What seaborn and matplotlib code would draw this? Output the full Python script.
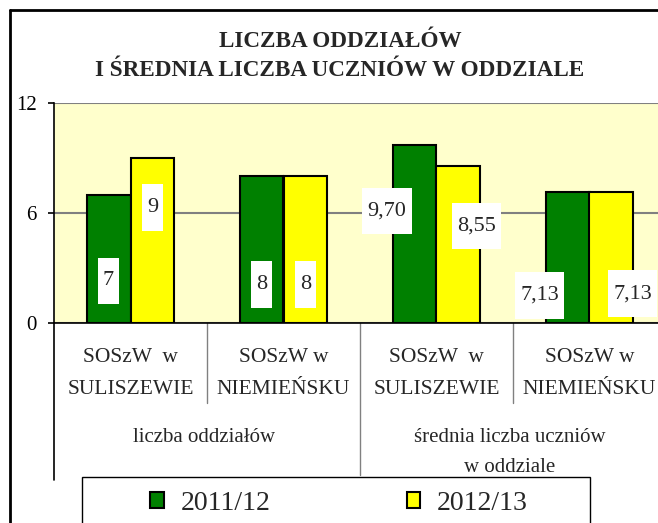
import pandas as pd
import matplotlib
matplotlib.use("Agg")
import matplotlib.pyplot as plt
import seaborn as sns
from matplotlib.path import Path
from matplotlib.lines import Line2D
from matplotlib.patches import Rectangle

# data
groups = ["liczba oddziałów", "średnia liczba uczniów\nw oddziale"]
schools = ["SOSzW  w\nSULISZEWIE", "SOSzW w\nNIEMIEŃSKU",
           "SOSzW  w\nSULISZEWIE", "SOSzW w\nNIEMIEŃSKU"]
years = ["2011/12", "2012/13"]
v_2011 = [7, 8, 9.70, 7.13]
v_2012 = [9, 8, 8.55, 7.13]
lab_2011 = ["7", "8", "9,70", "7,13"]
lab_2012 = ["9", "8", "8,55", "7,13"]

# where Excel put the value boxes (y centre, x shift in category units)
lab_y = [[2.3, 2.1, 6.1, 1.5], [6.3, 2.1, 5.3, 1.6]]
lab_dx = [[0, 0, -0.18, -0.18], [0, 0, 0.12, 0.14]]

keys = [str(i) for i in range(len(schools))]
df = pd.DataFrame({
    "k": keys * 2,
    "v": v_2011 + v_2012,
    "year": [years[0]] * 4 + [years[1]] * 4,
})

sns.set_style("white")
plt.rcParams["font.family"] = ["Liberation Serif", "DejaVu Serif"]

W, H = 658, 523
fig = plt.figure(figsize=(W / 100, H / 100), dpi=100)
ax = fig.add_axes([54 / W, 200 / H, 612 / W, 220 / H])

sns.barplot(data=df, x="k", y="v", hue="year", order=keys, ax=ax,
            palette=["#008000", "#FFFF00"], saturation=1, width=0.575,
            edgecolor="black", linewidth=1.5, errorbar=None)

ax.set_facecolor("#FFFFCC")
ax.set_xlim(-0.5, len(schools) - 0.5)
ax.set_ylim(0, 12)
ax.set_yticks([0, 6, 12])
ax.yaxis.grid(True, color="#808080", lw=1.5)
ax.set_axisbelow(True)
ax.set_xlabel("")
ax.set_ylabel("")
for s in ["top", "right"]:
    ax.spines[s].set_visible(False)
for s in ["left", "bottom"]:
    ax.spines[s].set_color("black")
    ax.spines[s].set_linewidth(1.2)
ax.tick_params(axis="y", labelsize=15, length=4.5, width=1.2, pad=8,
               left=True, colors="black")
ax.set_xticks(range(len(schools)))
ax.set_xticklabels(schools, fontsize=15.5, linespacing=1.9)
ax.tick_params(axis="x", length=0, pad=18)


def value_box(x0, y0, width, height, mutation_size):
    px, py = 0.23 * mutation_size, 0.62 * mutation_size
    x0, y0, x1, y1 = x0 - px, y0 - py, x0 + width + px, y0 + height + py
    return Path([(x0, y0), (x1, y0), (x1, y1), (x0, y1), (x0, y0)],
                [Path.MOVETO, Path.LINETO, Path.LINETO, Path.LINETO,
                 Path.CLOSEPOLY])


for j, (cont, labs) in enumerate(zip(ax.containers, [lab_2011, lab_2012])):
    for i, (bar, t) in enumerate(zip(cont, labs)):
        xc = bar.get_x() + bar.get_width() / 2 + lab_dx[j][i]
        ax.text(xc, lab_y[j][i], t, ha="center", va="center", fontsize=16,
                bbox=dict(boxstyle=value_box, fc="white", ec="none"))

# category / group separators below the axis
tr = ax.get_xaxis_transform()
ax.plot([-0.5, -0.5], [0, -0.714], transform=tr, color="black", lw=1.2,
        clip_on=False)
for b, depth in [(0.5, -0.364), (1.5, -0.69), (2.5, -0.364)]:
    ax.plot([b, b], [0, depth], transform=tr, color="#808080", lw=1,
            clip_on=False)
for g, name in enumerate(groups):
    ax.text(2 * g + 0.48, -0.475, name, transform=tr, ha="center", va="top",
            fontsize=15, linespacing=1.85)

# legend
h, l = ax.get_legend_handles_labels()
ax.get_legend().remove()
fig.legend(h, l, loc="center left", bbox_to_anchor=(150 / W, 1 - 503 / H),
           ncol=2, frameon=False, fontsize=20, borderpad=0, borderaxespad=0,
           handlelength=0.5, handleheight=0.5, handletextpad=0.6,
           columnspacing=4.9)
fig.patches.append(Rectangle((82 / W, -0.1), 508 / W, 1 - 477 / H + 0.1,
                             transform=fig.transFigure, fill=False,
                             ec="black", lw=1))

fig.text(340 / W, 1 - 56 / H, "LICZBA ODDZIAŁÓW\nI ŚREDNIA LICZBA UCZNIÓW W ODDZIALE",
         ha="center", va="center", fontsize=16.7, fontweight="bold",
         linespacing=1.45)

# outer chart border
fig.add_artist(Line2D([10 / W, 10 / W], [0, 1 - 10 / H], color="black", lw=2))
fig.add_artist(Line2D([10 / W, 1], [1 - 10 / H, 1 - 10 / H], color="black", lw=2))

fig.savefig("out.png", dpi=100, facecolor="white")
